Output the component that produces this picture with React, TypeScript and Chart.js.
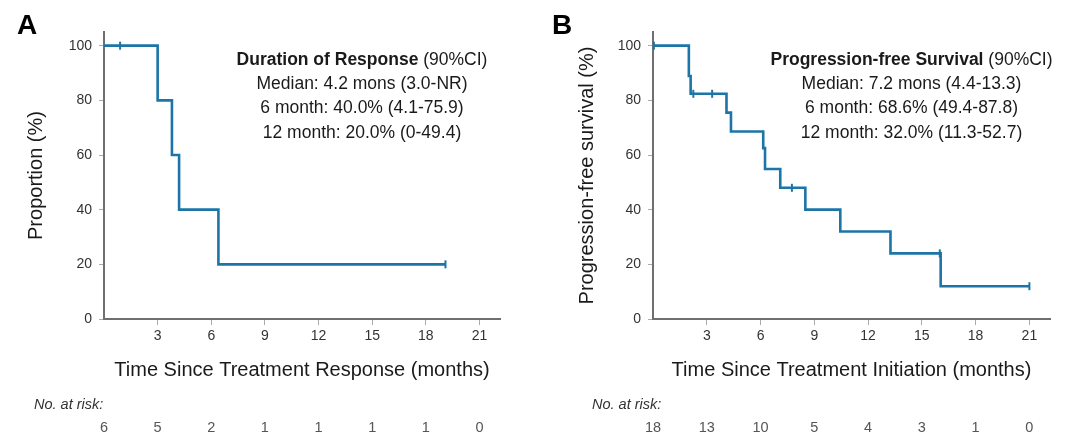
import React, { useEffect, useRef } from 'react';
import { Chart, registerables } from 'chart.js';

Chart.register(...registerables);

const FONT = "'Liberation Sans', Arial, Helvetica, sans-serif";
const LINE_COLOR = '#1b75a6';

const xTicks = [3, 6, 9, 12, 15, 18, 21];
const yTicks = [0, 20, 40, 60, 80, 100];
const riskTimes = [0, 3, 6, 9, 12, 15, 18, 21];

// Panel A: Duration of Response
const dorTimes = [0, 3.0, 3.8, 4.2, 6.4, 19.1];
const dorSurv = [100, 80, 60, 40, 20, 20];
const dorCensorTimes = [0.9, 19.1];
const dorCensorSurv = [100, 20];
const dorRisk = [6, 5, 2, 1, 1, 1, 1, 0];

// Panel B: Progression-free Survival
const pfsTimes = [0, 2.0, 2.1, 4.1, 4.35, 6.15, 6.25, 7.1, 8.5, 10.45, 13.25, 16.05, 21.0];
const pfsSurv = [100, 88.9, 82.4, 75.5, 68.6, 62.5, 54.9, 48.0, 40.0, 32.0, 24.0, 12.0, 12.0];
const pfsCensorTimes = [0.05, 2.25, 3.3, 7.75, 16.0, 21.0];
const pfsCensorSurv = [100, 82.4, 82.4, 48.0, 24.0, 12.0];
const pfsRisk = [18, 13, 10, 5, 4, 3, 1, 0];

type PanelDef = {
  letter: string;
  letterX: number;
  yTitle: string;
  yTitlePad: number;
  xTitle: string;
  statsBold: string;
  statsRest: string;
  statsLines: string[];
  statsX: number;
  times: number[];
  surv: number[];
  cTimes: number[];
  cSurv: number[];
  risk: number[];
  riskLabelX: number;
  axisW: number;
  padRight: number;
  xMax: number;
};

const panels: PanelDef[] = [
  {
    letter: 'A',
    letterX: 17,
    yTitle: 'Proportion (%)',
    yTitlePad: 24,
    xTitle: 'Time Since Treatment Response (months)',
    statsBold: 'Duration of Response',
    statsRest: ' (90%CI)',
    statsLines: ['Median: 4.2 mons (3.0-NR)', '6 month: 40.0% (4.1-75.9)', '12 month: 20.0% (0-49.4)'],
    statsX: 362,
    times: dorTimes,
    surv: dorSurv,
    cTimes: dorCensorTimes,
    cSurv: dorCensorSurv,
    risk: dorRisk,
    riskLabelX: 34,
    axisW: 104,
    padRight: 40,
    xMax: 22.15,
  },
  {
    letter: 'B',
    letterX: 12,
    yTitle: 'Progression-free survival (%)',
    yTitlePad: 35,
    xTitle: 'Time Since Treatment Initiation (months)',
    statsBold: 'Progression-free Survival',
    statsRest: ' (90%CI)',
    statsLines: ['Median: 7.2 mons (4.4-13.3)', '6 month: 68.6% (49.4-87.8)', '12 month: 32.0% (11.3-52.7)'],
    statsX: 371.5,
    times: pfsTimes,
    surv: pfsSurv,
    cTimes: pfsCensorTimes,
    cSurv: pfsCensorSurv,
    risk: pfsRisk,
    riskLabelX: 52,
    axisW: 113,
    padRight: 30,
    xMax: 22.15,
  },
];

function makeOverlay(p: PanelDef) {
  return {
    id: 'overlay' + p.letter,
    afterDraw(chart: any) {
      const ctx = chart.ctx as CanvasRenderingContext2D;
      const xs = chart.scales.x;
      ctx.save();
      // panel letter
      ctx.fillStyle = '#000';
      ctx.font = `bold 28px ${FONT}`;
      ctx.textAlign = 'left';
      ctx.textBaseline = 'alphabetic';
      ctx.fillText(p.letter, p.letterX, 34);
      // stats box
      const fs = 17.5;
      ctx.fillStyle = '#1a1a1a';
      ctx.textBaseline = 'middle';
      ctx.font = `bold ${fs}px ${FONT}`;
      const wb = ctx.measureText(p.statsBold).width;
      ctx.font = `${fs}px ${FONT}`;
      const wr = ctx.measureText(p.statsRest).width;
      const x0 = p.statsX - (wb + wr) / 2;
      ctx.textAlign = 'left';
      ctx.font = `bold ${fs}px ${FONT}`;
      ctx.fillText(p.statsBold, x0, 60);
      ctx.font = `${fs}px ${FONT}`;
      ctx.fillText(p.statsRest, x0 + wb, 60);
      ctx.textAlign = 'center';
      p.statsLines.forEach((l, i) => ctx.fillText(l, p.statsX, 84 + i * 24.5));
      // risk table
      ctx.fillStyle = '#333';
      ctx.textAlign = 'left';
      ctx.font = `italic 14.5px ${FONT}`;
      ctx.fillText('No. at risk:', p.riskLabelX, 405);
      ctx.fillStyle = '#555';
      ctx.textAlign = 'center';
      ctx.font = `14.5px ${FONT}`;
      riskTimes.forEach((t, i) => {
        ctx.fillText(String(p.risk[i]), xs.getPixelForValue(t), 428);
      });
      ctx.restore();
    },
  };
}

function Panel({ p }: { p: PanelDef }) {
  const ref = useRef<HTMLCanvasElement>(null);
  useEffect(() => {
    if (!ref.current) return;
    const chart = new Chart(ref.current, {
      type: 'line',
      data: {
        datasets: [
          {
            data: p.times.map((t, i) => ({ x: t, y: p.surv[i] })),
            stepped: 'before',
            borderColor: LINE_COLOR,
            borderWidth: 2.6,
            pointRadius: 0,
            fill: false,
          } as any,
          {
            data: p.cTimes.map((t, i) => ({ x: t, y: p.cSurv[i] })),
            showLine: false,
            pointStyle: 'line',
            rotation: 90,
            pointRadius: 4,
            pointBorderWidth: 2,
            pointBorderColor: LINE_COLOR,
            borderColor: LINE_COLOR,
            clip: false,
          } as any,
        ],
      },
      options: {
        animation: false,
        responsive: false,
        devicePixelRatio: 1,
        layout: { padding: { left: 0, right: p.padRight, top: 32, bottom: 54 } },
        plugins: { legend: { display: false }, tooltip: { enabled: false } },
        scales: {
          x: {
            type: 'linear',
            min: 0,
            max: p.xMax,
            afterFit: (s: any) => {
              s.height = 70;
            },
            afterBuildTicks: (s: any) => {
              s.ticks = xTicks.map((v) => ({ value: v }));
            },
            grid: { drawOnChartArea: false, drawTicks: true, tickLength: 6, color: '#aaa' },
            border: { display: true, color: '#6f6f6f', width: 2 },
            ticks: { font: { size: 14, family: FONT }, color: '#333', padding: 3, maxRotation: 0, autoSkip: false },
            title: {
              display: true,
              text: p.xTitle,
              font: { size: 20, family: FONT },
              color: '#1a1a1a',
              padding: { top: 0, bottom: 7 },
            },
          },
          y: {
            type: 'linear',
            min: 0,
            max: 105,
            afterFit: (s: any) => {
              s.width = p.axisW;
            },
            afterBuildTicks: (s: any) => {
              s.ticks = yTicks.map((v) => ({ value: v }));
            },
            grid: { drawOnChartArea: false, drawTicks: true, tickLength: 5, color: '#aaa' },
            border: { display: true, color: '#6f6f6f', width: 2 },
            ticks: { font: { size: 14, family: FONT }, color: '#333', padding: 7 },
            title: {
              display: true,
              text: p.yTitle,
              font: { size: 20, family: FONT },
              color: '#1a1a1a',
              padding: { top: p.yTitlePad, bottom: 0 },
            },
          },
        },
      } as any,
      plugins: [makeOverlay(p)],
    });
    return () => chart.destroy();
  }, [p]);
  return <canvas ref={ref} width={540} height={443} style={{ display: 'block', width: 540, height: 443 }} />;
}

export default function App() {
  return (
    <div
      style={{
        position: 'absolute',
        left: 0,
        top: 0,
        width: 1080,
        height: 443,
        display: 'flex',
        background: '#fff',
      }}
    >
      {panels.map((p) => (
        <Panel key={p.letter} p={p} />
      ))}
    </div>
  );
}
